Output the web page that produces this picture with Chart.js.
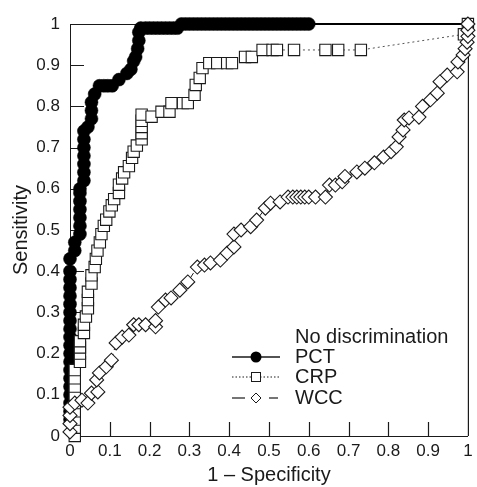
<!DOCTYPE html>
<html>
<head>
<meta charset="utf-8">
<script src="https://cdn.jsdelivr.net/npm/chart.js@4.4.1/dist/chart.umd.min.js"></script>
<style>
  body { margin: 0; background: #fff; }
  #wrap { width: 477px; height: 487px; }
</style>
</head>
<body>
<div id="wrap"><canvas id="rocChart"></canvas></div>
<script>
// ROC curves, x = 1 - specificity, y = sensitivity
const pctX = [0,0,0,0,0,0,0,0,0,0,0,0,0,0,0,0,0,0,0,0,
  0.012,0.012,
  0.025,0.025,0.025,0.025,0.025,0.025,0.025,
  0.035,0.035,0.035,0.035,0.035,0.035,0.035,
  0.045,0.054,0.054,0.054,0.062,
  0.074,0.085,0.095,0.106,
  0.123,0.143,0.153,0.16,0.165,0.17,0.173,0.173,
  0.178,0.19,0.2,0.21,0.22,0.23,0.24,0.25,0.26,0.27,
  0.28,0.29,0.3,0.31,0.32,0.33,0.34,0.35,0.36,0.37,0.38,0.39,0.4,0.41,0.42,0.43,0.44,
  0.45,0.46,0.47,0.48,0.49,0.5,0.51,0.52,0.53,0.54,0.55,0.56,0.57,0.58,0.59,0.6,
  1];
const pctY = [0.04,0.06,0.08,0.1,0.12,0.14,0.16,0.18,0.2,0.22,0.24,0.26,0.28,0.3,0.32,0.34,0.36,0.38,0.4,0.43,
  0.45,0.47,
  0.49,0.51,0.53,0.55,0.57,0.59,0.6,
  0.62,0.64,0.66,0.68,0.7,0.72,0.74,
  0.75,0.77,0.79,0.81,0.83,
  0.85,0.85,0.85,0.85,
  0.865,0.88,0.89,0.91,0.92,0.94,0.96,0.98,
  0.99,0.99,0.99,0.99,0.99,0.99,0.99,0.99,0.99,0.99,
  1,1,1,1,1,1,1,1,1,1,1,1,1,1,1,1,1,
  1,1,1,1,1,1,1,1,1,1,1,1,1,1,1,1,
  1];

const crpX = [0.012,0.012,0.012,0.012,0.012,0.012,0.012,0.012,0.012,
  0.025,0.025,0.025,0.025,
  0.035,0.035,0.04,
  0.045,0.045,0.045,
  0.054,0.054,0.062,0.065,0.069,0.075,0.079,0.085,0.091,0.099,0.105,0.111,0.123,0.123,0.131,0.136,0.148,0.156,0.16,0.168,
  0.18,0.18,0.18,0.18,0.18,
  0.205,0.23,0.25,0.255,0.284,0.296,0.313,0.316,0.326,0.333,0.35,0.37,0.395,0.407,
  0.44,0.457,
  0.484,0.509,0.52,0.563,0.642,0.674,0.731,
  0.99,1];
const crpY = [0,0.02,0.04,0.06,0.08,0.1,0.12,0.14,0.16,
  0.18,0.2,0.215,0.23,
  0.25,0.27,0.29,
  0.31,0.33,0.35,
  0.37,0.39,0.41,0.43,0.45,0.47,0.49,0.51,0.525,0.545,0.56,0.575,0.59,0.61,0.625,0.64,0.655,0.675,0.69,0.705,
  0.72,0.735,0.75,0.765,0.78,
  0.775,0.787,0.787,0.808,0.808,0.808,0.828,0.852,0.869,0.893,0.905,0.905,0.905,0.905,
  0.92,0.92,
  0.937,0.937,0.937,0.937,0.937,0.937,0.937,
  0.975,1];

const wccX = [0,0,0,0,
  0.012,0.03,0.045,0.054,0.07,0.067,0.074,0.091,0.104,0.116,
  0.131,0.148,0.16,0.173,0.19,0.215,0.215,0.222,0.24,0.254,
  0.276,0.296,0.32,0.338,0.353,0.378,0.395,0.412,0.412,0.43,
  0.454,0.469,0.491,0.504,0.528,0.548,0.56,0.57,0.58,0.59,
  0.6,0.617,0.642,0.652,0.667,0.684,0.691,0.721,0.741,0.765,
  0.788,0.807,0.82,0.827,0.837,0.84,0.852,0.877,0.886,0.906,
  0.923,0.93,0.948,0.973,0.975,0.988,0.993,0.998,1,1,
  1];
const wccY = [0.01,0.03,0.05,0.07,
  0.08,0.087,0.08,0.104,0.107,0.136,0.153,0.168,0.184,0.226,
  0.24,0.245,0.27,0.27,0.27,0.265,0.28,0.313,0.33,0.335,
  0.354,0.374,0.41,0.415,0.42,0.427,0.444,0.459,0.49,0.5,
  0.508,0.524,0.553,0.565,0.568,0.58,0.58,0.58,0.58,0.58,
  0.58,0.58,0.58,0.609,0.609,0.617,0.63,0.641,0.65,0.663,
  0.677,0.69,0.702,0.726,0.743,0.767,0.772,0.774,0.8,0.816,
  0.832,0.86,0.876,0.884,0.908,0.925,0.94,0.956,0.97,0.985,
  1];

// inner tick marks on both axes
const tickValues = [0.1, 0.2, 0.3, 0.4, 0.5, 0.6, 0.7, 0.8, 0.9];

function pts(xs, ys) {
  return xs.map((x, i) => ({x: x, y: ys[i]}));
}

// 0, 0.1 ... 0.9, 1
function tickText(value) {
  return String(Number(value.toFixed(1)));
}

const FONT = "'Liberation Sans', Arial, Helvetica, sans-serif";
const INK = '#1a1a1a';
const TICK_LEN = 14;

// last PCT point is only the end of the line
const pctRadius = pctX.map((x, i) => i === pctX.length - 1 ? 0 : 6.5);

// top + right side of the box, and the inward tick marks (under the marks)
const framePlugin = {
  id: 'frame',
  beforeDatasetsDraw(chart) {
    const a = chart.chartArea, ctx = chart.ctx;
    const xs = chart.scales.x, ys = chart.scales.y;
    ctx.save();
    ctx.strokeStyle = INK;
    ctx.lineWidth = 1.2;
    ctx.beginPath();
    ctx.moveTo(a.left, a.top + 0.5);
    ctx.lineTo(a.right + 0.5, a.top + 0.5);
    ctx.lineTo(a.right + 0.5, a.bottom);
    tickValues.forEach(v => {
      const px = Math.round(xs.getPixelForValue(v)) + 0.5;
      ctx.moveTo(px, a.bottom);
      ctx.lineTo(px, a.bottom - TICK_LEN);
      const py = Math.round(ys.getPixelForValue(v)) + 0.5;
      ctx.moveTo(a.left, py);
      ctx.lineTo(a.left + TICK_LEN, py);
    });
    ctx.stroke();
    ctx.restore();
  }
};

// legend drawn inside the plot, lower right
const legendPlugin = {
  id: 'rocLegend',
  afterDraw(chart) {
    const a = chart.chartArea, ctx = chart.ctx;
    const x0 = a.left + 162, x1 = a.left + 210, xm = (x0 + x1) / 2, tx = a.left + 225;
    const rows = [a.bottom - 99, a.bottom - 79, a.bottom - 59, a.bottom - 38];
    ctx.save();
    ctx.font = '20px ' + FONT;
    ctx.fillStyle = INK;
    ctx.textBaseline = 'middle';
    ctx.textAlign = 'left';
    ctx.fillText('No discrimination', tx, rows[0]);
    ctx.fillText('PCT', tx, rows[1]);
    ctx.fillText('CRP', tx, rows[2]);
    ctx.fillText('WCC', tx, rows[3]);

    ctx.strokeStyle = INK;
    // PCT
    ctx.lineWidth = 1.5;
    ctx.setLineDash([]);
    ctx.beginPath(); ctx.moveTo(x0, rows[1]); ctx.lineTo(x1, rows[1]); ctx.stroke();
    ctx.beginPath(); ctx.arc(xm, rows[1], 5.5, 0, Math.PI * 2); ctx.fillStyle = '#000'; ctx.fill();
    // CRP
    ctx.lineWidth = 1;
    ctx.setLineDash([1.5, 2]);
    ctx.beginPath(); ctx.moveTo(x0, rows[2]); ctx.lineTo(x1, rows[2]); ctx.stroke();
    ctx.setLineDash([]);
    ctx.fillStyle = '#fff';
    ctx.fillRect(xm - 4.5, rows[2] - 4.5, 9, 9);
    ctx.strokeRect(xm - 4.5, rows[2] - 4.5, 9, 9);
    // WCC
    ctx.lineWidth = 1.2;
    ctx.beginPath(); ctx.moveTo(x0, rows[3]); ctx.lineTo(x0 + 13, rows[3]); ctx.stroke();
    ctx.beginPath(); ctx.moveTo(x1 - 11, rows[3]); ctx.lineTo(x1 - 2, rows[3]); ctx.stroke();
    ctx.lineWidth = 1;
    ctx.beginPath();
    ctx.moveTo(xm - 5, rows[3]); ctx.lineTo(xm, rows[3] - 5);
    ctx.lineTo(xm + 5, rows[3]); ctx.lineTo(xm, rows[3] + 5); ctx.closePath();
    ctx.fillStyle = '#fff'; ctx.fill(); ctx.stroke();
    ctx.restore();
  }
};

const config = {
  type: 'scatter',
  data: {
    datasets: [
      {
        label: 'PCT',
        data: pts(pctX, pctY),
        showLine: true,
        borderColor: '#000',
        borderWidth: 2,
        pointStyle: 'circle',
        pointRadius: pctRadius,
        pointBackgroundColor: '#000',
        pointBorderColor: '#000',
        pointBorderWidth: 0.5,
        clip: false,
        order: 3
      },
      {
        label: 'CRP',
        data: pts(crpX, crpY),
        showLine: true,
        borderColor: '#555',
        borderWidth: 1,
        borderDash: [2, 3],
        pointStyle: 'rect',
        pointRadius: 8,
        pointBackgroundColor: '#fff',
        pointBorderColor: INK,
        pointBorderWidth: 1.1,
        clip: false,
        order: 2
      },
      {
        label: 'WCC',
        data: pts(wccX, wccY),
        showLine: true,
        borderColor: INK,
        borderWidth: 1,
        borderDash: [6, 4],
        pointStyle: 'rectRot',
        pointRadius: 7,
        pointBackgroundColor: '#fff',
        pointBorderColor: INK,
        pointBorderWidth: 1.1,
        clip: false,
        order: 1
      }
    ]
  },
  options: {
    responsive: true,
    maintainAspectRatio: false,
    animation: false,
    layout: { padding: { top: 24, right: 2, left: 0, bottom: 0 } },
    plugins: {
      legend: { display: false },
      tooltip: { enabled: false }
    },
    scales: {
      x: {
        type: 'linear',
        min: 0,
        max: 1,
        ticks: { stepSize: 0.1, color: INK, padding: 18, maxRotation: 0, callback: tickText, font: { size: 17, family: FONT } },
        grid: { drawOnChartArea: false, tickLength: -13, color: 'rgba(0,0,0,0)', lineWidth: 1 },
        border: { display: true, color: INK, width: 1 },
        title: { display: true, text: '1 – Specificity', color: INK, padding: { top: 0, bottom: 0 }, font: { size: 20, family: FONT } },
        afterFit(scale) {
          scale.height = 51;
          scale.paddingLeft = 0;
          scale.paddingRight = 0;
        }
      },
      y: {
        type: 'linear',
        min: 0,
        max: 1,
        ticks: { stepSize: 0.1, color: INK, padding: 23, callback: tickText, font: { size: 17, family: FONT } },
        grid: { drawOnChartArea: false, tickLength: -13, color: 'rgba(0,0,0,0)', lineWidth: 1 },
        border: { display: true, color: INK, width: 1 },
        title: { display: true, text: 'Sensitivity', color: INK, padding: { top: 9, bottom: 0 }, font: { size: 20, family: FONT } },
        afterFit(scale) {
          scale.width = 70;
          scale.paddingTop = 0;
          scale.paddingBottom = 0;
        }
      }
    }
  },
  plugins: [framePlugin, legendPlugin]
};

new Chart('rocChart', config);
</script>
</body>
</html>
